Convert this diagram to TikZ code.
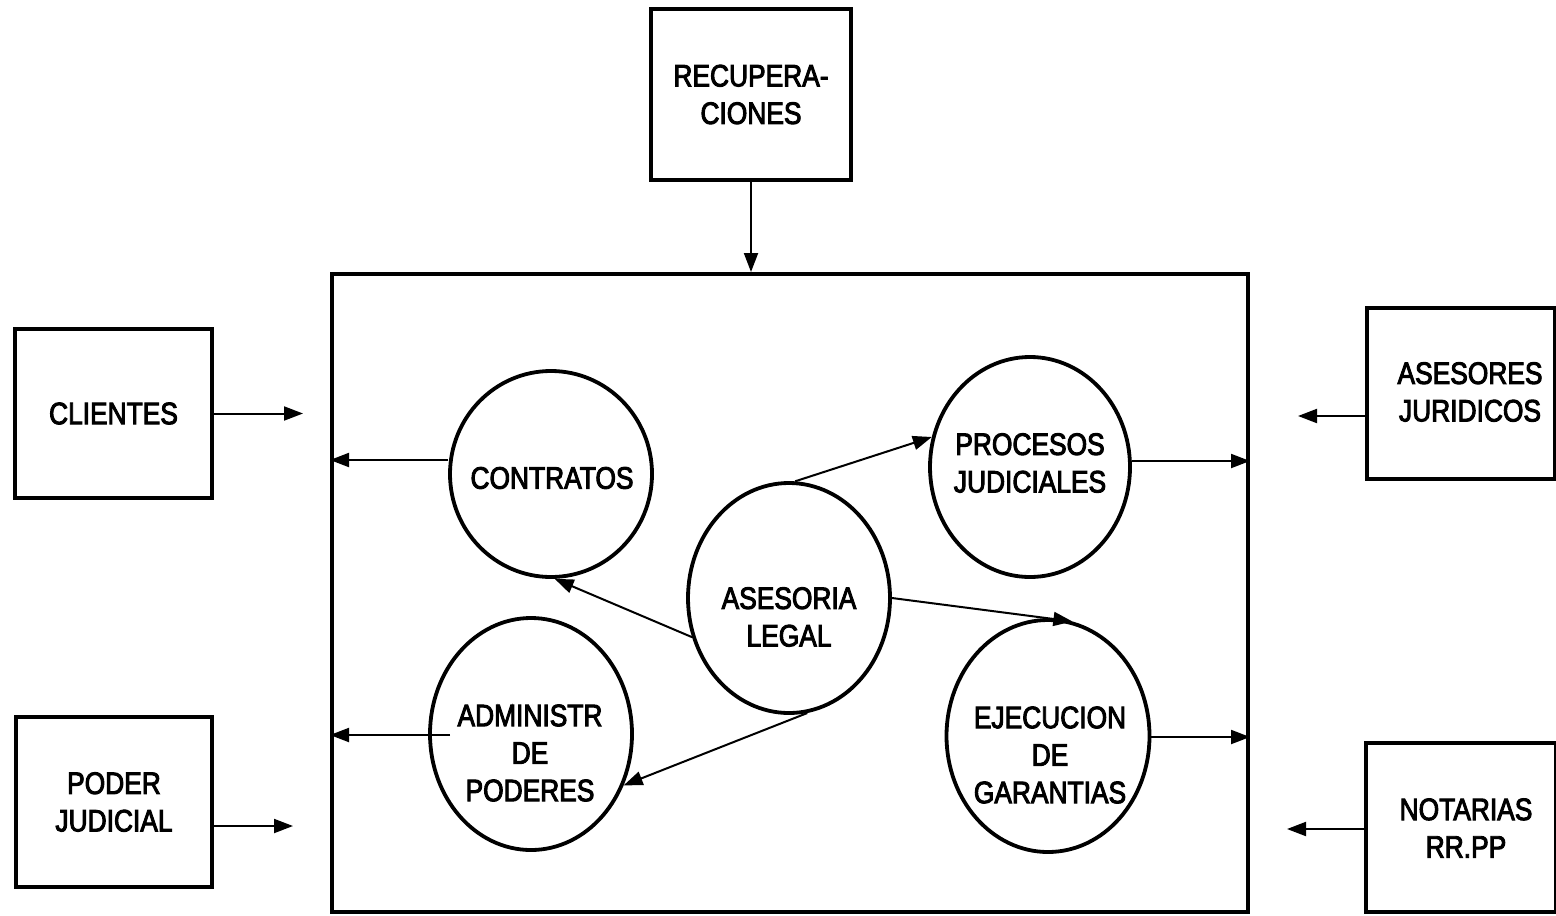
\documentclass[tikz,border=0pt]{standalone}
\usepackage{fontspec}
\setmainfont{Liberation Sans}[FakeStretch=0.85,FakeBold=3]
\usetikzlibrary{arrows.meta,shapes.geometric}
\begin{document}
\begin{tikzpicture}[x=0.5pt,y=-0.5pt,
  every node/.style={font=\fontsize{15.5pt}{18.75pt}\selectfont, align=center, inner sep=0pt},
  extbox/.style={draw, line width=2pt, rectangle},
  procnode/.style={draw, line width=1.9pt, ellipse},
  arr/.style={line width=1pt, -{Triangle[length=9.5pt,width=7pt]}}]
\useasboundingbox (0,0) rectangle (1556,915);

% external entities
\node[extbox, minimum width=100pt, minimum height=85.5pt] (recup) at (751,94.5) {RECUPERA-\\CIONES};
\node[extbox, minimum width=98.5pt, minimum height=84.5pt] (clientes) at (113.5,413.5) {CLIENTES};
\node[extbox, minimum width=98pt, minimum height=85pt] (poder) at (114,802) {PODER\\JUDICIAL};
\node[extbox, minimum width=94pt, minimum height=85.5pt] (asesores) at (1461,393.5) {};
\node (asesores-lbl) at (1470,392) {ASESORES\\JURIDICOS};
\node[extbox, minimum width=95pt, minimum height=84.5pt] (notarias) at (1461,827.5) {};
\node (notarias-lbl) at (1466,828) {NOTARIAS\\RR.PP};

% system boundary
\node[extbox, minimum width=458pt, minimum height=319pt] (sys) at (790,593) {};

% processes
\node[procnode, minimum width=101pt, minimum height=103pt] (contratos) at (551,474) {};
\node (contratos-lbl) at (552,478) {CONTRATOS};
\node[procnode, minimum width=100pt, minimum height=110pt] (procesos) at (1030,467) {};
\node (procesos-lbl) at (1030,463) {PROCESOS\\JUDICIALES};
\node[procnode, minimum width=101pt, minimum height=115pt] (asesoria) at (789,598) {};
\node (asesoria-lbl) at (789,617) {ASESORIA\\LEGAL};
\node[procnode, minimum width=101pt, minimum height=116pt] (admin) at (531,734) {};
\node (admin-lbl) at (530,753) {ADMINISTR\\DE\\PODERES};
\node[procnode, minimum width=101.5pt, minimum height=116pt] (ejec) at (1048,736) {};
\node (ejec-lbl) at (1050,755) {EJECUCION\\DE\\GARANTIAS};

% free ends of incoming flows
\coordinate (clientes-in) at (303,413.5);
\coordinate (poder-in) at (293,826);
\coordinate (asesores-in) at (1298,416);
\coordinate (notarias-in) at (1287,829);

% flows from the outside
\draw[arr] (recup.south) -- (recup.south |- sys.north);
\draw[arr] (clientes.east) -- (clientes-in);
\draw[arr] (poder.east |- poder-in) -- (poder-in);
\draw[arr] (asesores.west |- asesores-in) -- (asesores-in);
\draw[arr] (notarias.west |- notarias-in) -- (notarias-in);

% flows from the processes to the boundary
\draw[arr] ([yshift=7pt]contratos.west) -- ([yshift=7pt]contratos.west -| sys.west);
\draw[arr] ([xshift=11pt,yshift=-0.5pt]admin.west) -- ([yshift=-0.5pt]admin.west -| sys.west);
\draw[arr] ([yshift=3pt]procesos.east) -- ([yshift=3pt]procesos.east -| sys.east);
\draw[arr] ([yshift=-0.5pt]ejec.east) -- ([yshift=-0.5pt]ejec.east -| sys.east);

% flows from the central process
\draw[arr] (asesoria.87) -- (procesos.163);
\draw[arr] (asesoria.east) -- (ejec.78);
\draw[arr] (asesoria.202) -- (contratos.272);
\draw[arr] (asesoria.279) -- (admin.331);
\end{tikzpicture}
\end{document}
